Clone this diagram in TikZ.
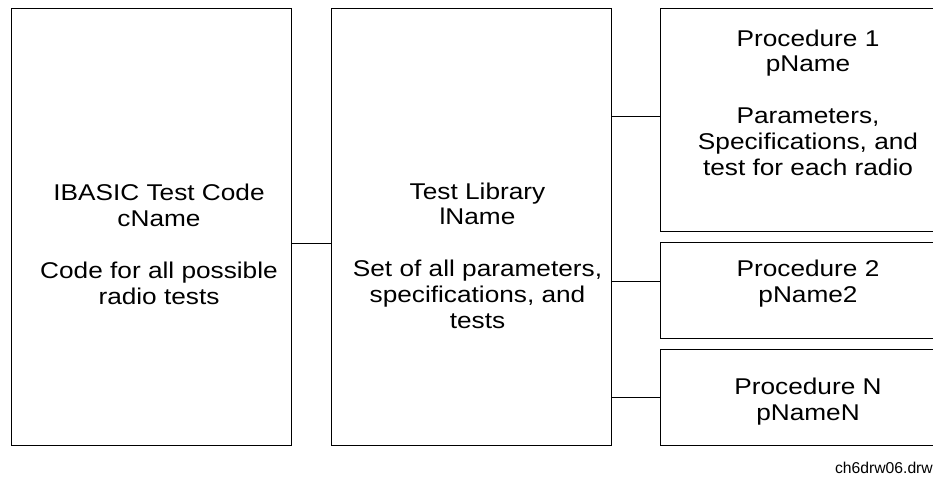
\documentclass[tikz,border=0pt]{standalone}
\usepackage{fontspec}
\setmainfont[FakeStretch=1.15]{Liberation Sans}
\newfontfamily\plainsans{Liberation Sans}
\usepackage{tikz}

\begin{document}
\begin{tikzpicture}[x=1pt,y=-1pt,
  box/.style={draw=black, line width=1pt, rectangle, inner sep=0pt, minimum width=280pt},
  boxtext/.style={align=center, anchor=base, inner sep=0pt, font=\fontsize{22.8}{25.8}\selectfont},
  link/.style={line width=1pt, color=black}]

\useasboundingbox (0,0) rectangle (933,476);
\clip (0,0) rectangle (933,476);

% boxes
\node[box, minimum height=436pt] (code) at (151,227) {};
\node[box, minimum height=436pt] (lib) at (471,227) {};
\node[box, minimum height=222pt] (proc1) at (800,120) {};
\node[box, minimum height=96pt] (proc2) at (800,290) {};
\node[box, minimum height=96pt] (procN) at (800,397) {};

% texts (anchored on the baseline of the last line)
\node[boxtext] (codeT) at (159,304) {IBASIC Test Code\\cName\\[25.8pt]Code for all possible\\radio tests};
\node[boxtext] (libT) at (477.5,328) {Test Library\\lName\\[25.8pt]Set of all parameters,\\specifications, and\\tests};
\node[boxtext] (proc1T) at (808,175) {Procedure 1\\pName\\[25.8pt]Parameters,\\Specifications, and\\test for each radio};
\node[boxtext] (proc2T) at (808,302) {Procedure 2\\pName2};
\node[boxtext] (procNT) at (808,420) {Procedure N\\pNameN};

% links
\draw[link] (code.east |- 0,243) -- (lib.west |- 0,243);
\draw[link] (lib.east |- 0,116) -- (proc1.west |- 0,116);
\draw[link] (lib.east |- 0,281) -- (proc2.west |- 0,281);
\draw[link] (lib.east |- 0,397) -- (procN.west |- 0,397);

\node[anchor=base east, inner sep=0pt, font=\plainsans\fontsize{15.7}{18}\selectfont] (fname) at (933,473) {ch6drw06.drw};

\end{tikzpicture}
\end{document}
